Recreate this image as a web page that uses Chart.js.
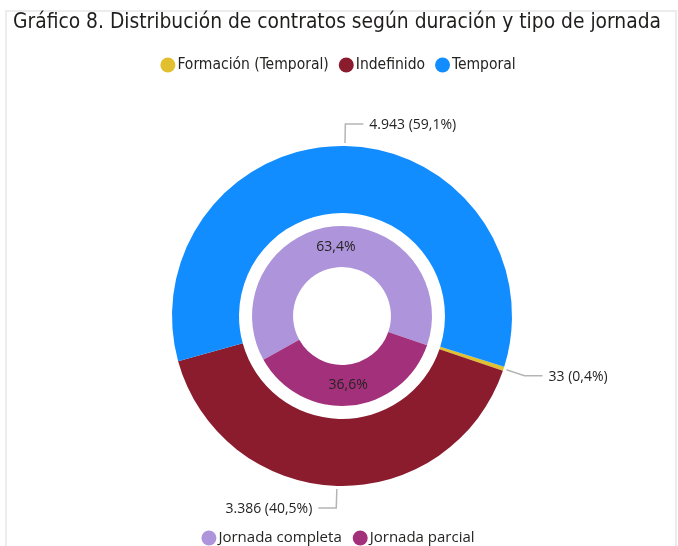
<!DOCTYPE html>
<html>
<head>
<meta charset="utf-8">
<script src="https://cdn.jsdelivr.net/npm/chart.js@4.4.1/dist/chart.umd.min.js"></script>
<style>
body { margin: 0; background: #fff; }
#wrap { position: relative; width: 678px; height: 546px; overflow: hidden; }
#marco { position: absolute; left: 5px; top: 10px; width: 672px; height: 540px; border: 2px solid #ececec; box-sizing: border-box; }
canvas { position: absolute; left: 0; top: 0; }
</style>
</head>
<body>
<div id="wrap">
  <div id="marco"></div>
  <canvas id="grafico" width="678" height="546"></canvas>
</div>
<script>
// datos del grafico
var duracion = ["Formación (Temporal)", "Indefinido", "Temporal"];
var contratos = [33, 3386, 4943];
var porcDuracion = [0.4, 40.5, 59.1];
var coloresDuracion = ["#E2BF2E", "#8A1C2E", "#118DFF"];

var jornada = ["Jornada completa", "Jornada parcial"];
var porcJornada = [63.4, 36.6];
var coloresJornada = ["#AD94DB", "#A3307A"];

var texto = "#252423";

function miles(n) {
    return String(n).replace(/\B(?=(\d{3})+(?!\d))/g, ".");
}
function coma(p) {
    return p.toFixed(1).replace(".", ",") + "%";
}

// lineas guia y textos del anillo exterior
var etiquetas = {
    id: 'etiquetas',
    afterDatasetsDraw: function (chart) {
        var ctx = chart.ctx;
        ctx.save();
        ctx.font = '14px "Open Sans"';
        ctx.textBaseline = 'middle';
        chart.getDatasetMeta(0).data.forEach(function (arco, i) {
            var p = arco.getProps(['x', 'y', 'startAngle', 'endAngle', 'outerRadius']);
            var a = (p.startAngle + p.endAngle) / 2;
            var x0 = p.x + Math.cos(a) * (p.outerRadius + 3);
            var y0 = p.y + Math.sin(a) * (p.outerRadius + 3);
            var x1 = p.x + Math.cos(a) * (p.outerRadius + 22);
            var y1 = p.y + Math.sin(a) * (p.outerRadius + 22);
            var dir = Math.cos(a) >= 0 ? 1 : -1;
            var x2 = x1 + dir * 18;
            ctx.strokeStyle = '#b5b5b5';
            ctx.lineWidth = 1.5;
            ctx.beginPath();
            ctx.moveTo(x0, y0);
            ctx.lineTo(x1, y1);
            ctx.lineTo(x2, y1);
            ctx.stroke();
            ctx.fillStyle = texto;
            ctx.textAlign = dir > 0 ? 'left' : 'right';
            ctx.fillText(miles(contratos[i]) + " (" + coma(porcDuracion[i]) + ")", x2 + dir * 6, y1 + 1);
        });
        // porcentajes del anillo interior
        ctx.font = '14px "Open Sans"';
        ctx.textAlign = 'center';
        chart.getDatasetMeta(2).data.forEach(function (arco, i) {
            var pos = arco.tooltipPosition();
            ctx.fillText(coma(porcJornada[i]), pos.x, pos.y);
        });
        ctx.restore();
    }
};

// leyendas con circulos (arriba: duracion, abajo: jornada)
function leyenda(ctx, nombres, colores, font, cx, y, hueco) {
    ctx.font = font;
    ctx.textBaseline = 'middle';
    ctx.textAlign = 'left';
    var r = 7.5, total = 0;
    nombres.forEach(function (t, i) {
        total += 2 * r + 2 + ctx.measureText(t).width + (i ? hueco : 0);
    });
    var x = cx - total / 2;
    nombres.forEach(function (t, i) {
        if (i) x += hueco;
        ctx.fillStyle = colores[i];
        ctx.beginPath();
        ctx.arc(x + r, y, r, 0, Math.PI * 2);
        ctx.fill();
        x += 2 * r + 2;
        ctx.fillStyle = texto;
        ctx.fillText(t, x, y);
        x += ctx.measureText(t).width;
    });
}

var leyendas = {
    id: 'leyendas',
    afterDraw: function (chart) {
        var ctx = chart.ctx;
        ctx.save();
        leyenda(ctx, duracion, coloresDuracion, '15.5px "DejaVu Sans Condensed", "DejaVu Sans"', 338, 65, 10);
        leyenda(ctx, jornada, coloresJornada, '15px "Open Sans"', 338, 538, 11);
        ctx.restore();
    }
};

new Chart(document.getElementById("grafico"), {
    type: 'doughnut',
    data: {
        labels: duracion,
        datasets: [{
            data: contratos,
            backgroundColor: coloresDuracion,
            borderWidth: 0,
            weight: 67,
            rotation: 107.4
        }, {
            data: [1],
            backgroundColor: 'rgba(0,0,0,0)',
            borderWidth: 0,
            weight: 13
        }, {
            data: porcJornada,
            backgroundColor: coloresJornada,
            borderWidth: 0,
            weight: 41,
            rotation: 240.8
        }]
    },
    plugins: [etiquetas, leyendas],
    options: {
        responsive: false,
        animation: false,
        radius: 170,
        cutout: '28.8%',
        layout: { padding: { left: 13, right: 7, bottom: 0 } },
        plugins: {
            tooltip: { enabled: false },
            legend: { display: false },
            title: {
                display: true,
                align: 'start',
                text: 'Gráfico 8. Distribución de contratos según duración y tipo de jornada',
                color: '#1f1e1d',
                font: { family: '"DejaVu Sans Condensed", "DejaVu Sans"', size: 20.8, weight: 'normal', lineHeight: 1.2 },
                padding: { top: 10, bottom: 51 }
            }
        }
    }
});
</script>
</body>
</html>
